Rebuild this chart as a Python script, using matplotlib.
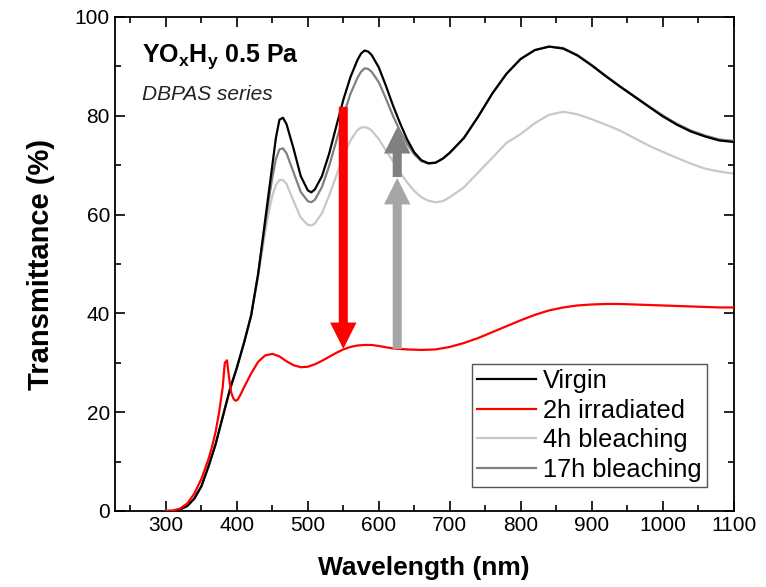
import matplotlib
matplotlib.use('Agg')
import matplotlib.pyplot as plt
from matplotlib.patches import FancyArrowPatch
from matplotlib.ticker import MultipleLocator

plt.rcParams['font.family'] = ['Liberation Sans', 'DejaVu Sans']
plt.rcParams['mathtext.fontset'] = 'custom'
plt.rcParams['mathtext.rm'] = 'Liberation Sans'
plt.rcParams['mathtext.bf'] = 'Liberation Sans:bold'
plt.rcParams['mathtext.it'] = 'Liberation Sans:italic'

# wavelength grid for virgin / bleaching spectra (nm)
wl = [300, 310, 320, 330, 340, 350, 360, 370, 380, 390, 400, 410, 420, 430, 440,
      445, 450, 455, 460, 465, 470, 480, 490, 500, 505, 510, 520, 530, 540, 550,
      560, 570, 575, 580, 585, 590, 600, 610, 620, 630, 640, 650, 660, 670, 680,
      690, 700, 720, 740, 760, 780, 800, 820, 840, 860, 880, 900, 920, 940, 960,
      980, 1000, 1020, 1040, 1060, 1080, 1100]

virgin = [0, 0, 0.3, 1, 2.5, 5, 9, 13.5, 19, 24.5, 29, 34, 39.5, 48, 59,
          64.5, 70, 75.5, 79.2, 79.6, 78.3, 73.3, 67.8, 64.9, 64.5, 65.1, 67.8, 72.3, 77.8, 83.2,
          87.8, 91.3, 92.6, 93.2, 93, 92.3, 89.8, 86.1, 82.1, 78.5, 75.2, 72.6, 71, 70.4, 70.5,
          71.3, 72.5, 75.5, 79.8, 84.5, 88.5, 91.5, 93.3, 94, 93.6, 92.2, 90.2, 88, 85.9, 83.9,
          81.9, 79.9, 78.2, 76.8, 75.8, 75, 74.7]

bleach_17h = [0, 0, 0.3, 1, 2.5, 5, 9, 13.5, 19, 24.5, 29, 34, 39.5, 48, 58,
              63, 67.5, 71.2, 73.2, 73.4, 72.4, 68.5, 64.6, 62.7, 62.5, 63, 65.6, 69.8, 74.8, 80,
              84.4, 87.7, 88.9, 89.6, 89.5, 88.9, 86.8, 83.5, 80, 76.9, 74.3, 72.2, 70.8, 70.3, 70.5,
              71.3, 72.5, 75.5, 79.8, 84.5, 88.5, 91.5, 93.3, 94, 93.7, 92.3, 90.3, 88.1, 86, 84,
              82, 80.1, 78.4, 77, 76, 75.2, 74.9]

bleach_4h = [0, 0, 0.3, 1, 2.5, 5, 9, 13.5, 19, 24.5, 29, 34, 39.5, 47.5, 56.5,
             60.5, 63.8, 66, 67, 67, 66.2, 62.7, 59.4, 57.9, 57.8, 58.2, 60.3, 63.8, 67.8, 71.8,
             75, 77.1, 77.6, 77.7, 77.5, 77, 75.3, 73, 70.8, 68.5, 66.5, 64.8, 63.5, 62.8, 62.5,
             62.7, 63.5, 65.5, 68.5, 71.5, 74.5, 76.3, 78.5, 80.2, 80.8, 80.3, 79.3, 78.2, 77, 75.5,
             74, 72.7, 71.5, 70.3, 69.3, 68.7, 68.3]

# 2h irradiated spectrum
wl_red = [300, 310, 320, 330, 340, 350, 360, 365, 370, 375, 380, 383, 386, 389, 392,
          395, 398, 401, 405, 410, 420, 430, 440, 450, 460, 470, 480, 490, 500, 510,
          520, 530, 540, 550, 560, 570, 580, 590, 600, 620, 640, 660, 680, 700, 720,
          740, 760, 780, 800, 820, 840, 860, 880, 900, 920, 940, 960, 980, 1000, 1020,
          1040, 1060, 1080, 1100]
irradiated = [0, 0.1, 0.5, 1.5, 3.5, 6.5, 10.5, 13, 16, 20, 25, 30, 30.5, 27, 24,
              22.8, 22.3, 22.5, 23.5, 25, 27.8, 30.2, 31.5, 31.8, 31.3, 30.3, 29.5, 29.1, 29.2, 29.7,
              30.4, 31.2, 32, 32.7, 33.2, 33.5, 33.6, 33.6, 33.4, 32.9, 32.7, 32.6, 32.7, 33.2, 34,
              35, 36.2, 37.4, 38.6, 39.7, 40.6, 41.2, 41.6, 41.8, 41.9, 41.9, 41.8, 41.7, 41.6, 41.5,
              41.4, 41.3, 41.2, 41.2]

# arrows: (x, y_start, y_end, colour)
arrows = [(550, 81.8, 32.8, '#ff0000'),
          (626, 32.8, 67.4, '#a6a6a6'),
          (626, 67.6, 77.7, '#808080')]

fig = plt.figure(figsize=(7.66, 5.87), dpi=100)
ax = fig.add_axes([0.1499, 0.1295, 0.8077, 0.8416])

ax.plot(wl, virgin, color='black', lw=1.6, label='Virgin', zorder=4)
ax.plot(wl_red, irradiated, color='#ff0000', lw=1.6, label='2h irradiated', zorder=5)
ax.plot(wl, bleach_4h, color='#c8c8c8', lw=1.6, label='4h bleaching', zorder=2)
ax.plot(wl, bleach_17h, color='#808080', lw=1.6, label='17h bleaching', zorder=3)

for x, y0, y1, c in arrows:
    ax.add_patch(FancyArrowPatch((x, y0), (x, y1),
                                 arrowstyle='simple,head_length=19,head_width=19,tail_width=6.5',
                                 color=c, lw=0, shrinkA=0, shrinkB=0, zorder=6))

ax.set_xlim(228, 1100)
ax.set_ylim(0, 100)
ax.xaxis.set_major_locator(MultipleLocator(100))
ax.xaxis.set_minor_locator(MultipleLocator(50))
ax.yaxis.set_major_locator(MultipleLocator(20))
ax.yaxis.set_minor_locator(MultipleLocator(10))
ax.tick_params(which='both', direction='in', top=True, right=True, width=1.2, labelsize=15)
ax.tick_params(which='major', length=7)
ax.tick_params(which='minor', length=4)
for s in ax.spines.values():
    s.set_linewidth(1.3)

ax.set_xlabel('Wavelength (nm)', fontsize=19, fontweight='bold', labelpad=15)
ax.set_ylabel('Transmittance (%)', fontsize=21, fontweight='bold', labelpad=14)

ax.text(0.044, 0.909, r'YO$_\mathbf{x}$H$_\mathbf{y}$ 0.5 Pa', transform=ax.transAxes,
        fontsize=18, fontweight='bold', va='baseline')
ax.text(0.044, 0.832, 'DBPAS series', transform=ax.transAxes,
        fontsize=15, style='italic', va='baseline', color='#222222')

leg = ax.legend(loc='lower right', bbox_to_anchor=(0.957, 0.0486), borderaxespad=0,
                fontsize=18.3, fancybox=False, handlelength=2.3, handletextpad=0.3,
                labelspacing=0.22, borderpad=0.2, framealpha=1)
leg.get_frame().set_edgecolor('#555555')
leg.get_frame().set_linewidth(1.0)

fig.savefig('out.png', dpi=100)
